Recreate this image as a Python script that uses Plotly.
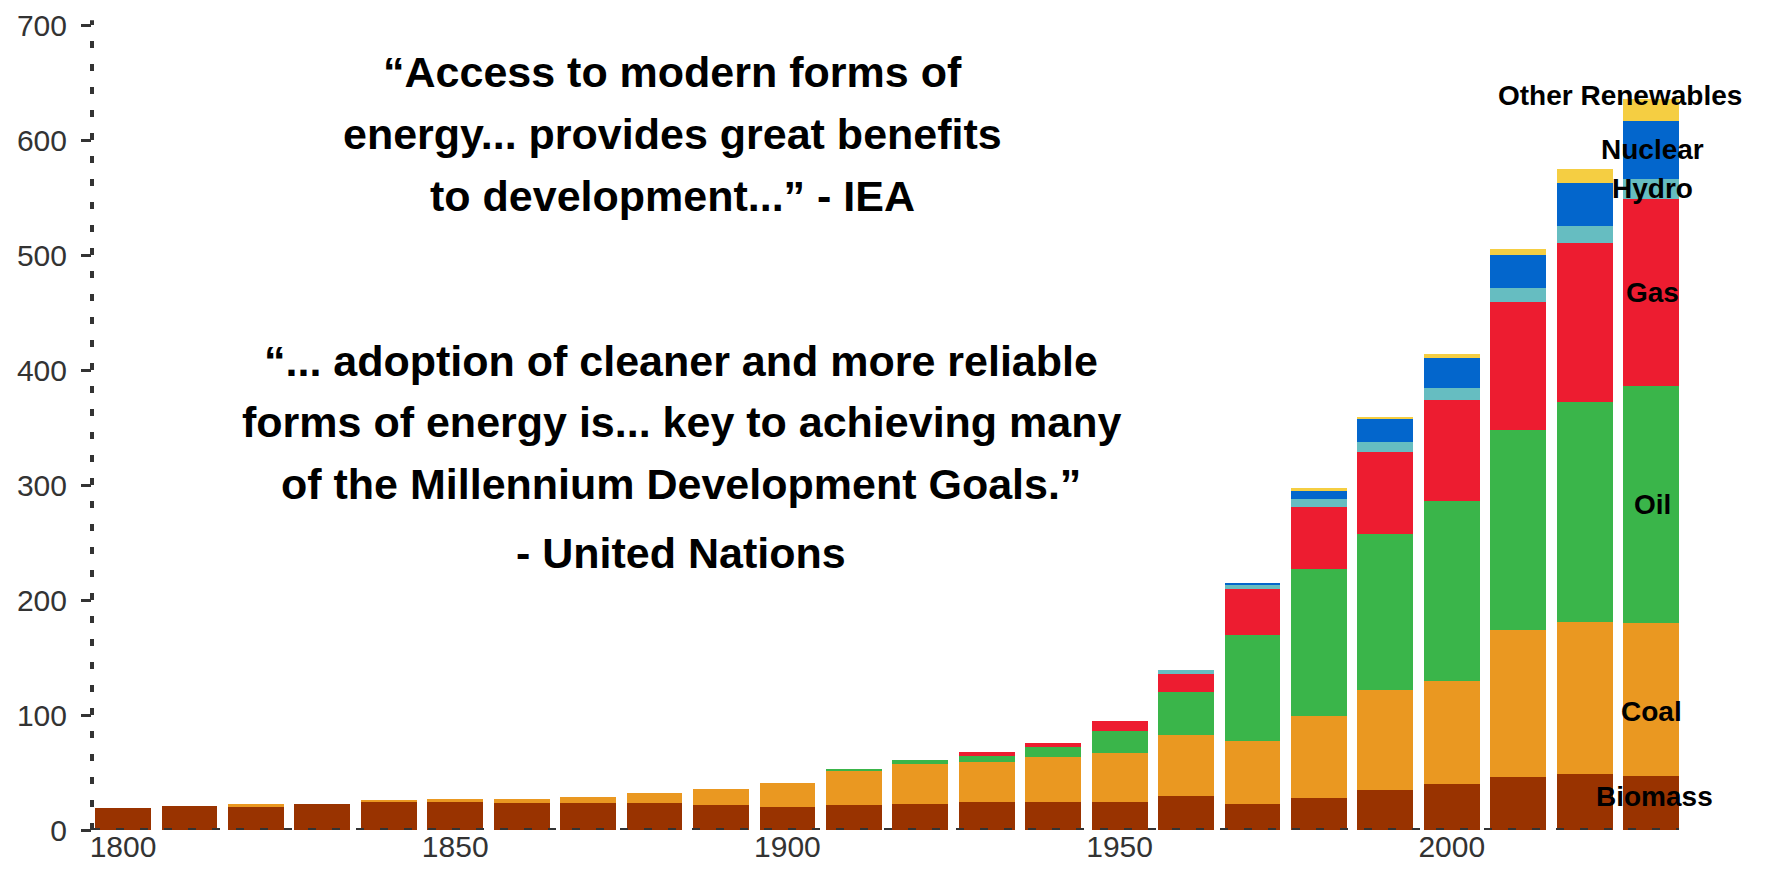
import plotly.graph_objects as go

# ---- data ----
years = [1800, 1810, 1820, 1830, 1840, 1850, 1860, 1870, 1880, 1890, 1900, 1910,
         1920, 1930, 1940, 1950, 1960, 1970, 1980, 1990, 2000, 2010, 2020, 2030]

biomass = [19.0, 20.8, 20.8, 22.5, 24.2, 25.1, 23.4, 23.4, 23.4, 21.6, 19.9, 21.6,
           22.8, 24.5, 24.5, 24.5, 29.7, 22.8, 28.0, 34.9, 40.1, 46.1, 48.7, 47.0]
coal = [0, 0, 1.7, 0, 1.8, 1.7, 3.4, 5.1, 8.6, 13.9, 20.8, 29.4,
        34.6, 34.6, 38.9, 42.4, 52.8, 54.5, 70.9, 86.5, 89.9, 128.2, 132.4, 133.2]
oil = [0, 0, 0, 0, 0, 0, 0, 0, 0, 0, 0, 1.8,
       3.4, 5.2, 8.7, 19.0, 37.2, 91.9, 128.3, 136.1, 156.2, 173.2, 191.4, 206.2]
gas = [0, 0, 0, 0, 0, 0, 0, 0, 0, 0, 0, 0,
       0, 3.5, 3.4, 8.7, 15.8, 40.7, 53.6, 70.9, 88.0, 111.6, 137.6, 162.7]
hydro = [0, 0, 0, 0, 0, 0, 0, 0, 0, 0, 0, 0,
         0, 0, 0, 0, 3.4, 3.5, 6.9, 8.6, 10.4, 12.1, 14.7, 17.3]
nuclear = [0, 0, 0, 0, 0, 0, 0, 0, 0, 0, 0, 0,
           0, 0, 0, 0, 0, 1.7, 6.9, 20.8, 26.0, 28.5, 38.0, 50.2]
other_renewables = [0, 0, 0, 0, 0, 0, 0, 0, 0, 0, 0, 0,
                    0, 0, 0, 0, 0, 0, 2.6, 1.7, 3.4, 5.2, 12.1, 19.0]

series_names = ["Biomass", "Coal", "Oil", "Gas", "Hydro", "Nuclear", "Other Renewables"]
series_values = [biomass, coal, oil, gas, hydro, nuclear, other_renewables]
series_colors = ["#993300", "#EA9821", "#3AB54A", "#ED1C30", "#66BDC1", "#0366CC", "#F5CE42"]

x_tick_vals = [1800, 1850, 1900, 1950, 2000]
y_tick_vals = [0, 100, 200, 300, 400, 500, 600, 700]

quote_iea = ["\u201cAccess to modern forms of",
             "energy... provides great benefits",
             "to development...\u201d - IEA"]
quote_un = ["\u201c... adoption of cleaner and more reliable",
            "forms of energy is... key to achieving many",
            "of the Millennium Development Goals.\u201d",
            "- United Nations"]

# ---- figure ----
# page has an 8px body margin; size the figure so it fits the 1789x872 window
OFF = 8
W, H = 1789 - 2 * OFF, 872 - 2 * OFF
PLOT_L, PLOT_R, PLOT_T, PLOT_B = 92 - OFF, 1687 - OFF, 25 - OFF, 830 - OFF
ML, MR, MT, MB = PLOT_L, W - PLOT_R, PLOT_T, H - PLOT_B
PW, PH = PLOT_R - PLOT_L, PLOT_B - PLOT_T

fig = go.Figure()
for name, vals, col in zip(series_names, series_values, series_colors):
    fig.add_trace(go.Bar(x=years, y=vals, name=name, marker=dict(color=col, line=dict(width=0))))

FONT = "Liberation Sans, Arial, Helvetica, sans-serif"
axis_col = "#333333"


def px_to_paper_x(px):  # px in page coordinates
    return (px - OFF - PLOT_L) / PW


def px_to_paper_y(py):
    return (PLOT_B - (py - OFF)) / PH


annotations = []
for line, py in zip(quote_iea, [72, 134, 196]):
    annotations.append(dict(text="<b>%s</b>" % line, xref="paper", yref="paper",
                            x=px_to_paper_x(672), y=px_to_paper_y(py),
                            xanchor="center", yanchor="middle", showarrow=False,
                            font=dict(family=FONT, size=43, color="black")))
for line, py in zip(quote_un, [361, 422, 484, 553]):
    annotations.append(dict(text="<b>%s</b>" % line, xref="paper", yref="paper",
                            x=px_to_paper_x(681), y=px_to_paper_y(py),
                            xanchor="center", yanchor="middle", showarrow=False,
                            font=dict(family=FONT, size=43, color="black")))

# series labels at the last bar's segment midpoints
offsets = {"Biomass": (3, 6), "Coal": (0, -12), "Other Renewables": (-31, 14)}
cum = 0
for name, vals in zip(series_names, series_values):
    v = vals[-1]
    mid = cum + v / 2
    cum += v
    dx, dy = offsets.get(name, (1, 0))
    annotations.append(dict(text="<b>%s</b>" % name, x=years[-1], y=mid, xref="x", yref="y",
                            xshift=dx, yshift=dy, showarrow=False, xanchor="center",
                            yanchor="middle", font=dict(family=FONT, size=28, color="black")))

shapes = [
    dict(type="line", xref="paper", yref="paper", x0=0, x1=0, y0=0, y1=1.006,
         line=dict(color=axis_col, width=4, dash="7px,16px"), layer="above"),
    dict(type="line", xref="paper", yref="y", x0=0, x1=0.995, y0=0, y1=0,
         line=dict(color=axis_col, width=4, dash="8px,16px"), layer="above"),
]

fig.update_layout(
    width=W, height=H,
    margin=dict(l=ML, r=MR, t=MT, b=MB, pad=0, autoexpand=False),
    barmode="stack", bargap=0.16,
    plot_bgcolor="white", paper_bgcolor="white",
    showlegend=False,
    font=dict(family=FONT, color=axis_col, size=30),
    xaxis=dict(range=[1795.33, 2035.4], tickvals=x_tick_vals, ticks="", showgrid=False,
               zeroline=False, showline=False, automargin=False, ticklabeloverflow="allow",
               ticklabelstandoff=-4, tickfont=dict(size=30, color=axis_col)),
    yaxis=dict(range=[0, 700], tickvals=y_tick_vals, ticks="outside", ticklen=10, tickwidth=3,
               tickcolor=axis_col, showgrid=False, zeroline=False, showline=False,
               automargin=False, ticklabeloverflow="allow", ticklabelstandoff=8,
               tickfont=dict(size=30, color=axis_col)),
    annotations=annotations,
    shapes=shapes,
)

fig.write_html("out.html")
